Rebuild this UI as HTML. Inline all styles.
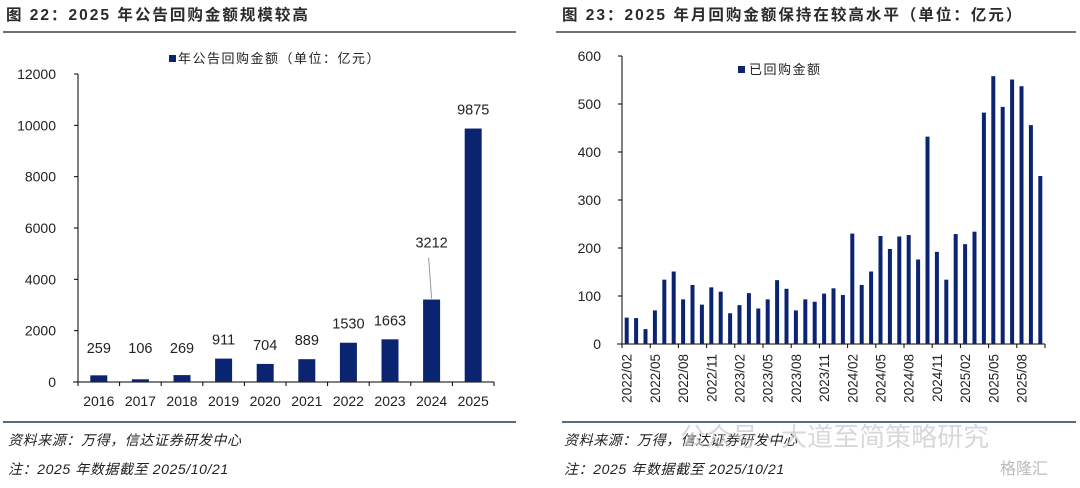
<!DOCTYPE html>
<html><head><meta charset="utf-8"><style>
body{margin:0;background:#fff;width:1080px;height:483px;overflow:hidden;font-family:"Liberation Sans","Noto Sans CJK SC",sans-serif}
svg text{font-family:"Liberation Sans","Noto Sans CJK SC",sans-serif}
</style></head><body>
<svg width="1080" height="483">
<text x="6" y="20" font-size="15.5" font-weight="bold" fill="#2a2a2a" letter-spacing="2">图 22：2025 年公告回购金额规模较高</text>
<line x1="3" y1="32" x2="516" y2="32" stroke="#444" stroke-width="1.5"/>
<text x="562" y="20" font-size="15.5" font-weight="bold" fill="#2a2a2a" letter-spacing="2">图 23：2025 年月回购金额保持在较高水平（单位：亿元）</text>
<line x1="556" y1="32" x2="1076" y2="32" stroke="#444" stroke-width="1.5"/>
<g id="left"></g>
<g id="right"></g>
<line x1="3" y1="422" x2="516" y2="422" stroke="#1f3864" stroke-width="1.5"/>
<line x1="562" y1="422" x2="1076" y2="422" stroke="#1f3864" stroke-width="1.5"/>
<text x="8" y="445" font-size="14" font-style="italic" fill="#222" letter-spacing="0.6">资料来源：万得，信达证券研发中心</text>
<text x="8" y="474" font-size="14" font-style="italic" fill="#222" letter-spacing="0.6">注：2025 年数据截至 2025/10/21</text>
<text x="564" y="445" font-size="14" font-style="italic" fill="#222" letter-spacing="0.6">资料来源：万得，信达证券研发中心</text>
<text x="564" y="474" font-size="14" font-style="italic" fill="#222" letter-spacing="0.6">注：2025 年数据截至 2025/10/21</text>
<text x="680" y="446" font-size="26" fill="#c8c8c8" opacity="0.7">公众号 · 大道至简策略研究</text>
<text x="1000" y="474" font-size="16" fill="#bbb">格隆汇</text>
</svg>
<script>
const leftCats=["2016","2017","2018","2019","2020","2021","2022","2023","2024","2025"];
const leftVals=[259,106,269,911,704,889,1530,1663,3212,9875];
const leftTicks=[0,2000,4000,6000,8000,10000,12000];
const rightVals=[55,54,31,70,134,151,93,123,82,118,109,64,81,106,74,93,133,115,70,93,88,105,116,102,230,123,151,225,198,224,227,176,432,192,134,229,208,234,482,558,494,551,537,456,350];
const rightTicks=[0,100,200,300,400,500,600];
const rightStart={y:2022,m:2};
const NS="http://www.w3.org/2000/svg";
function mk(p,t,a){const e=document.createElementNS(NS,t);for(const k in a)e.setAttribute(k,a[k]);p.appendChild(e);return e;}
const C="#0a2472";
(function(){
const g=document.getElementById('left');
const x0=78,x1=494,y0=382,yT=74,max=12000;
const ys=v=>y0-(v/max)*(y0-yT);
const cw=(x1-x0)/leftCats.length;
let a=mk(g,'line',{x1:x0,y1:yT,x2:x0,y2:y0,stroke:'#000'});


a=mk(g,'line',{x1:x0-5,y1:y0,x2:x1,y2:y0,stroke:'#000'});


leftTicks.forEach(t=>{const y=ys(t);
mk(g,'line',{x1:x0-4,y1:y,x2:x0,y2:y,stroke:'#000'});
const tx=mk(g,'text',{x:x0-22,y:y+5,'font-size':14,'text-anchor':'end',fill:'#222'});tx.textContent=t;

});
for(let i=0;i<=leftCats.length;i++)mk(g,'line',{x1:x0+i*cw,y1:y0,x2:x0+i*cw,y2:y0+4,stroke:'#000'});
leftCats.forEach((c,i)=>{const cx=x0+(i+0.5)*cw,v=leftVals[i],y=ys(v);
const r=mk(g,'rect',{x:cx-8.5,y:y,width:17,height:y0-y,fill:C});


const lb=mk(g,'text',{x:cx,y:y0+24,'font-size':14,'text-anchor':'middle',fill:'#222'});lb.textContent=c;


let ly=y-14;
if(i===8){ly=y-52;mk(g,'line',{x1:cx-3,y1:ly+10,x2:cx,y2:y-1,stroke:'#999'});}
const vl=mk(g,'text',{x:cx,y:Math.min(ly,y0-25)-(v<300?4:0),'font-size':14.5,'text-anchor':'middle',fill:'#222'});vl.textContent=v;

});
const lg=mk(g,'rect',{x:169,y:55,width:7,height:7,fill:C});


const lt=mk(g,'text',{x:178,y:63,'font-size':13,fill:'#222','letter-spacing':'1.5'});lt.textContent='年公告回购金额（单位：亿元）';


})();
(function(){
const g=document.getElementById('right');
const x0=622,x1=1045,y0=344,yT=56,max=600;
const ys=v=>y0-(v/max)*(y0-yT);
const cw=(x1-x0)/rightVals.length;
let a=mk(g,'line',{x1:x0,y1:yT,x2:x0,y2:y0,stroke:'#000'});


a=mk(g,'line',{x1:x0-5,y1:y0,x2:x1,y2:y0,stroke:'#000'});


rightTicks.forEach(t=>{const y=ys(t);
mk(g,'line',{x1:x0-4,y1:y,x2:x0,y2:y,stroke:'#000'});
const tx=mk(g,'text',{x:x0-21,y:y+5,'font-size':14,'text-anchor':'end',fill:'#222'});tx.textContent=t;

});
rightVals.forEach((v,i)=>{const cx=x0+(i+0.5)*cw,y=ys(v);
const r=mk(g,'rect',{x:cx-2,y:y,width:4,height:y0-y,fill:C});


if(i%3===0){
mk(g,'line',{x1:x0+i*cw,y1:y0,x2:x0+i*cw,y2:y0+4,stroke:'#000'});
const mm=rightStart.m-1+i,yr=rightStart.y+Math.floor(mm/12),mo=mm%12+1;
const lb=mk(g,'text',{x:0,y:0,'font-size':13.5,'text-anchor':'end',fill:'#222',transform:`translate(${cx+5},${y0+10}) rotate(-90)`});
lb.textContent=yr+'/'+String(mo).padStart(2,'0');

}});
mk(g,'line',{x1:x1,y1:y0,x2:x1,y2:y0+4,stroke:'#000'});
const lg=mk(g,'rect',{x:738,y:66,width:7,height:7,fill:C});


const lt=mk(g,'text',{x:749,y:74,'font-size':13,fill:'#222','letter-spacing':'1.5'});lt.textContent='已回购金额';


})();
</script>
</body></html>
